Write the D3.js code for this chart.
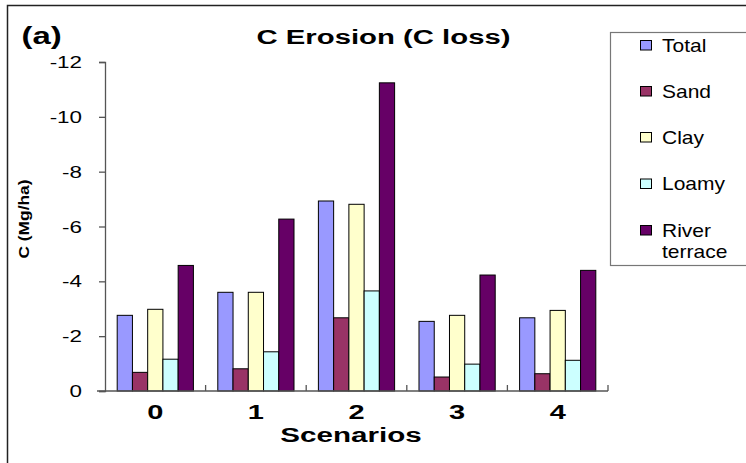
<!DOCTYPE html>
<html>
<head>
<meta charset="utf-8">
<script src="https://cdn.jsdelivr.net/npm/d3@7"></script>
<style>
  html, body { margin: 0; padding: 0; background: #fff; }
  svg { display: block; }
  text { font-family: "Liberation Sans", Arial, sans-serif; }
</style>
</head>
<body>
<div id="chart"></div>
<script>
const scenarios = ["0", "1", "2", "3", "4"];
const seriesNames = ["Total", "Sand", "Clay", "Loamy", "River terrace"];
const total = [-2.76, -3.60, -6.93, -2.54, -2.67];
const sand = [-0.68, -0.81, -2.67, -0.51, -0.63];
const clay = [-2.98, -3.60, -6.81, -2.76, -2.94];
const loamy = [-1.16, -1.43, -3.65, -0.98, -1.12];
const riverTerrace = [-4.58, -6.27, -11.24, -4.23, -4.40];
const yTicks = [0, -2, -4, -6, -8, -10, -12];
const colors = ["#9999FF", "#993366", "#FFFFCC", "#CCFFFF", "#660066"];

const seriesValues = [total, sand, clay, loamy, riverTerrace];

const W = 746, H = 463;
const svg = d3.select("#chart").append("svg").attr("width", W).attr("height", H);

// outer frame
svg.append("rect").attr("x", 7.5).attr("y", 5.5).attr("width", 760).attr("height", 480)
  .attr("fill", "#fff").attr("stroke", "#222").attr("stroke-width", 1.5);

const plot = { left: 105, right: 608, top: 62, bottom: 391 };

const x0 = d3.scaleBand().domain(scenarios).range([plot.left, plot.right]).padding(0);
const x1 = d3.scaleBand().domain(seriesNames).range([0, x0.bandwidth()]).paddingInner(0).paddingOuter(0.8);
const y = d3.scaleLinear().domain([0, -12]).range([plot.bottom, plot.top]);

function stretchedText(g, x, yy, str, opts) {
  const t = g.append("text")
    .attr("transform", `translate(${x},${yy}) scale(${opts.sx || 1.4},1)`)
    .attr("text-anchor", opts.anchor || "middle")
    .attr("font-size", opts.size)
    .attr("font-weight", opts.weight || "normal")
    .attr("fill", "#000")
    .text(str);
  return t;
}

// bars
const groups = svg.append("g").selectAll("g").data(scenarios).join("g")
  .attr("transform", d => `translate(${x0(d)},0)`);
groups.selectAll("rect")
  .data((d, i) => seriesNames.map((s, j) => ({ s, j, v: seriesValues[j][i] })))
  .join("rect")
  .attr("x", d => x1(d.s))
  .attr("width", x1.bandwidth())
  .attr("y", d => y(d.v))
  .attr("height", d => y(0) - y(d.v))
  .attr("fill", d => colors[d.j])
  .attr("stroke", "#000")
  .attr("stroke-width", 1);

// y axis
const yAxis = d3.axisLeft(y).tickValues(yTicks).tickSize(6).tickFormat(d => String(d));
const gy = svg.append("g").attr("transform", `translate(${plot.left},0)`).call(yAxis);
gy.select(".domain").attr("stroke", "#555").attr("stroke-width", 1.3);
gy.selectAll(".tick line").attr("stroke", "#555").attr("stroke-width", 1.3);
gy.selectAll(".tick text")
  .attr("font-size", 16)
  .attr("font-family", "Liberation Sans, Arial, sans-serif")
  .attr("fill", "#000")
  .attr("x", -23 / 1.4)
  .attr("dy", "0.35em")
  .attr("transform", "scale(1.4,1)");

// x axis
const xAxisG = svg.append("g");
xAxisG.append("line").attr("x1", plot.left - 8).attr("x2", plot.right)
  .attr("y1", plot.bottom).attr("y2", plot.bottom)
  .attr("stroke", "#555").attr("stroke-width", 1.3);
const boundaries = scenarios.map(d => x0(d) + x0.bandwidth());
xAxisG.selectAll("line.tk").data(boundaries).join("line").attr("class", "tk")
  .attr("x1", d => d).attr("x2", d => d)
  .attr("y1", plot.bottom).attr("y2", plot.bottom - 6)
  .attr("stroke", "#555").attr("stroke-width", 1.3);
scenarios.forEach(d => {
  stretchedText(xAxisG, x0(d) + x0.bandwidth() / 2, 419, d, { size: 20, weight: "bold", sx: 1.45 });
});

// axis titles
stretchedText(svg, 351, 441.5, "Scenarios", { size: 21, weight: "bold", sx: 1.41 });
svg.append("text")
  .attr("transform", `translate(28.5,219) rotate(-90) scale(1.12,1)`)
  .attr("text-anchor", "middle")
  .attr("font-size", 15.5)
  .attr("font-weight", "bold")
  .text("C (Mg/ha)");

// title and panel label
stretchedText(svg, 383.5, 43.5, "C Erosion (C loss)", { size: 20.5, weight: "bold", sx: 1.43 });
stretchedText(svg, 21.5, 44, "(a)", { size: 23, weight: "bold", sx: 1.43, anchor: "start" });

// legend
const lg = svg.append("g");
lg.append("rect").attr("x", 610.5).attr("y", 32.5).attr("width", 200).attr("height", 233)
  .attr("fill", "#fff").attr("stroke", "#777").attr("stroke-width", 1.2);
const legendY = [45, 91, 137, 183.5, 230];
seriesNames.forEach((s, i) => {
  lg.append("rect").attr("x", 640.5).attr("y", legendY[i] - 4.5).attr("width", 11).attr("height", 9.5)
    .attr("fill", colors[i]).attr("stroke", "#000").attr("stroke-width", 1);
  const parts = s === "River terrace" ? ["River", "terrace"] : [s];
  parts.forEach((p, k) => {
    stretchedText(lg, 662, legendY[i] + 6.5 + k * 21.5, p, { size: 17.5, sx: 1.2, anchor: "start" });
  });
});
</script>
</body>
</html>
